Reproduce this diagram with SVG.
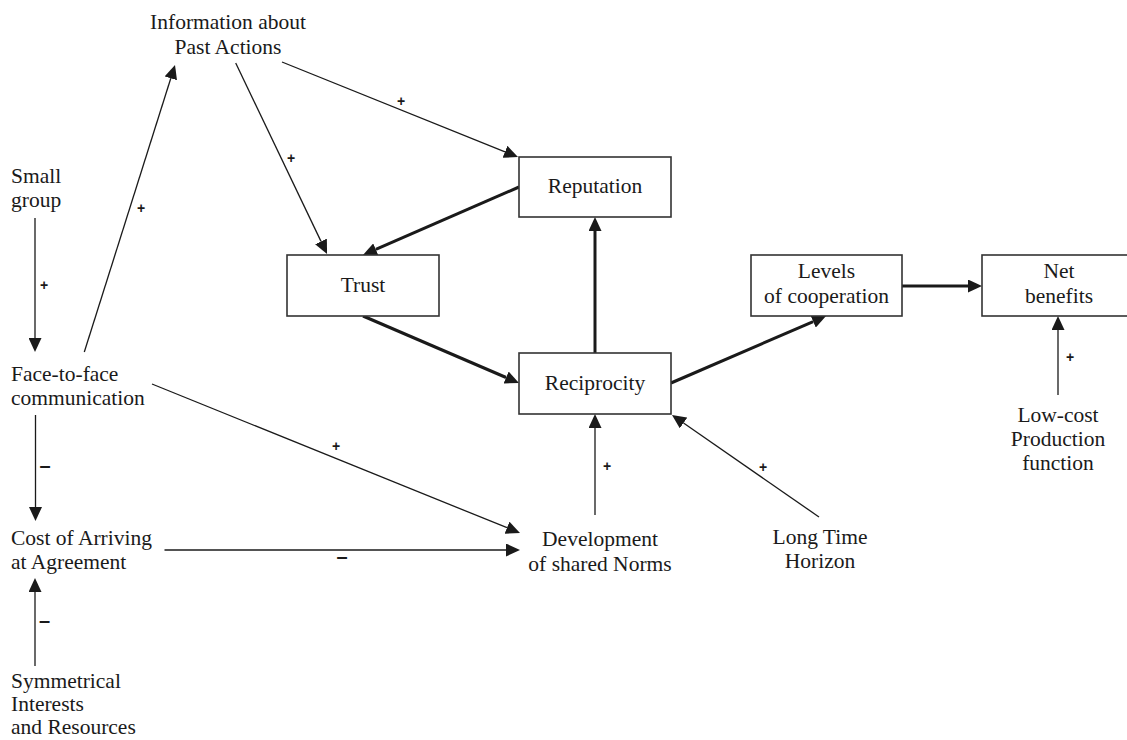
<svg xmlns="http://www.w3.org/2000/svg" width="1127" height="740" viewBox="0 0 1127 740">
<defs>
<style>
.lbl{font-family:"Liberation Serif","Times New Roman",serif;font-size:21.5px;fill:#1a1a1a}
.box{fill:#fff;stroke:#333;stroke-width:1.6}
.thin{stroke:#1a1a1a;stroke-width:1.3;fill:none}
.thick{stroke:#1a1a1a;stroke-width:3;fill:none}
.sign{font-family:"Liberation Sans",Arial,sans-serif;font-size:14px;font-weight:bold;fill:#1a1a1a}
.minus{font-family:"Liberation Sans",Arial,sans-serif;font-size:20px;font-weight:bold;fill:#1a1a1a}
</style>
<marker id="ah" markerUnits="userSpaceOnUse" markerWidth="14" markerHeight="13" refX="0" refY="6.5" orient="auto">
<path d="M0,0 L14,6.5 L0,13 z" fill="#1a1a1a"/>
</marker>
</defs>
<rect width="1127" height="740" fill="#fff"/>

<g id="connectors">
<line class="thin" x1="35" y1="218" x2="35" y2="338" marker-end="url(#ah)"/>
<line class="thin" x1="84.3" y1="352" x2="170.8" y2="78.3" marker-end="url(#ah)"/>
<line class="thin" x1="282" y1="62" x2="505" y2="151.8" marker-end="url(#ah)"/>
<line class="thin" x1="235.7" y1="63" x2="321" y2="241.4" marker-end="url(#ah)"/>
<line class="thick" x1="519" y1="187" x2="375.8" y2="249.4" marker-end="url(#ah)"/>
<line class="thick" x1="363" y1="316" x2="506.1" y2="377.5" marker-end="url(#ah)"/>
<line class="thick" x1="595" y1="353" x2="595" y2="231" marker-end="url(#ah)"/>
<line class="thick" x1="671" y1="383" x2="813.2" y2="321.6" marker-end="url(#ah)"/>
<line class="thick" x1="902" y1="286" x2="968" y2="286" marker-end="url(#ah)"/>
<line class="thin" x1="1058" y1="395" x2="1058" y2="330" marker-end="url(#ah)"/>
<line class="thin" x1="595" y1="515" x2="595" y2="428" marker-end="url(#ah)"/>
<line class="thin" x1="819" y1="517" x2="683.5" y2="423" marker-end="url(#ah)"/>
<line class="thin" x1="152" y1="384" x2="507" y2="527.7" marker-end="url(#ah)"/>
<line class="thin" x1="164.5" y1="550" x2="506" y2="550" marker-end="url(#ah)"/>
<line class="thin" x1="35.5" y1="415" x2="35.5" y2="507" marker-end="url(#ah)"/>
<line class="thin" x1="35" y1="666" x2="35" y2="592" marker-end="url(#ah)"/>
<g text-anchor="middle" dominant-baseline="central">
<text class="sign" x="44" y="285">+</text>
<text class="sign" x="141" y="208">+</text>
<text class="sign" x="401" y="101">+</text>
<text class="sign" x="291" y="158">+</text>
<text class="sign" x="1070" y="357">+</text>
<text class="sign" x="607" y="466">+</text>
<text class="sign" x="763" y="467">+</text>
<text class="sign" x="336" y="446">+</text>
<text class="minus" x="342" y="556">–</text>
<text class="minus" x="45" y="465">–</text>
<text class="minus" x="44.5" y="620">–</text>
</g>
</g>

<g id="info">
<text class="lbl" x="228" y="29" text-anchor="middle">Information about</text>
<text class="lbl" x="228" y="54" text-anchor="middle">Past Actions</text>
</g>
<g id="small-group">
<text class="lbl" x="11" y="183">Small</text>
<text class="lbl" x="11" y="207">group</text>
</g>
<g id="face-to-face">
<text class="lbl" x="11" y="381">Face-to-face</text>
<text class="lbl" x="11" y="405">communication</text>
</g>
<g id="cost">
<text class="lbl" x="11" y="545">Cost of Arriving</text>
<text class="lbl" x="11" y="569">at Agreement</text>
</g>
<g id="symmetrical">
<text class="lbl" x="11" y="688">Symmetrical</text>
<text class="lbl" x="11" y="711">Interests</text>
<text class="lbl" x="11" y="734">and Resources</text>
</g>
<g id="reputation">
<rect class="box" x="519" y="157" width="152" height="60"/>
<text class="lbl" x="595" y="193" text-anchor="middle">Reputation</text>
</g>
<g id="trust">
<rect class="box" x="287" y="255" width="152" height="61"/>
<text class="lbl" x="363" y="292" text-anchor="middle">Trust</text>
</g>
<g id="reciprocity">
<rect class="box" x="519" y="353" width="152" height="61"/>
<text class="lbl" x="595" y="390" text-anchor="middle">Reciprocity</text>
</g>
<g id="levels">
<rect class="box" x="751" y="255" width="151" height="61"/>
<text class="lbl" x="826.5" y="278" text-anchor="middle">Levels</text>
<text class="lbl" x="826.5" y="303" text-anchor="middle">of cooperation</text>
</g>
<g id="net-benefits">
<rect class="box" x="982" y="255" width="154" height="61"/>
<text class="lbl" x="1059" y="278" text-anchor="middle">Net</text>
<text class="lbl" x="1059" y="303" text-anchor="middle">benefits</text>
</g>
<g id="development">
<text class="lbl" x="600" y="546" text-anchor="middle">Development</text>
<text class="lbl" x="600" y="571" text-anchor="middle">of shared Norms</text>
</g>
<g id="long-time">
<text class="lbl" x="820" y="544" text-anchor="middle">Long Time</text>
<text class="lbl" x="820" y="568" text-anchor="middle">Horizon</text>
</g>
<g id="low-cost">
<text class="lbl" x="1058" y="422" text-anchor="middle">Low-cost</text>
<text class="lbl" x="1058" y="446" text-anchor="middle">Production</text>
<text class="lbl" x="1058" y="470" text-anchor="middle">function</text>
</g>
</svg>
